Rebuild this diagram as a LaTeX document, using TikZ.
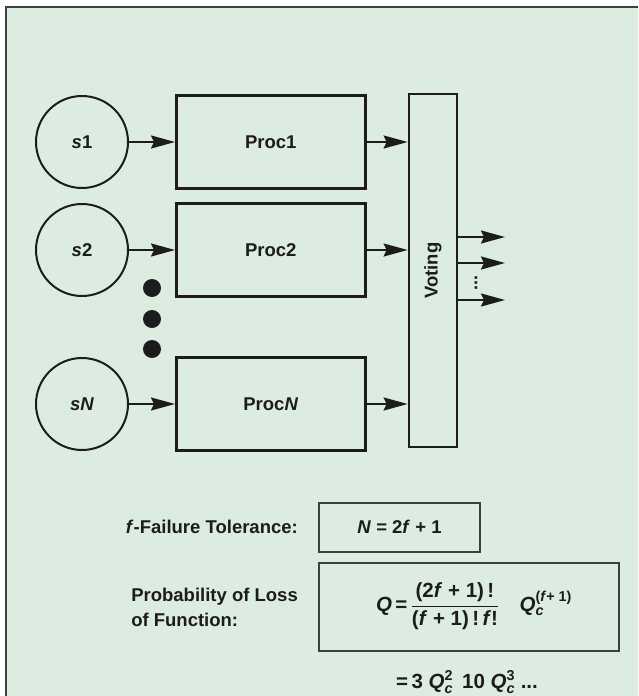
\documentclass[tikz,border=0pt]{standalone}
\usepackage{amsmath}
\usepackage{fontspec}
\setmainfont{Liberation Sans}
\usepackage{tikz}
\usetikzlibrary{
  arrows.meta,
  positioning
}
\definecolor{panelgreen}{RGB}{221,236,224}
\definecolor{ink}{RGB}{28,28,28}
\definecolor{framegray}{RGB}{60,64,62}
\newcommand{\vv}[1]{\textit{#1}}
\tikzset{
  txt/.style={font=\fontsize{18.5}{25}\selectfont\bfseries,text=ink},
  bigtxt/.style={font=\fontsize{20.5}{26}\selectfont\bfseries},
  sensor/.style={txt,circle,draw=ink,line width=2pt,
    minimum size=92pt,inner sep=0pt},
  procbox/.style={txt,draw=ink,line width=2.6pt,
    minimum width=189pt,minimum height=93pt,inner sep=0pt},
  votebox/.style={txt,draw=ink,line width=2.8pt,rotate=90,
    minimum width=353pt,minimum height=48pt,inner sep=0pt},
  eqbox/.style={txt,draw=ink!85,line width=2pt,inner sep=0pt},
  flow/.style={-{Stealth[length=24pt,width=13pt,inset=3pt]},
    line width=2pt,draw=ink},
  lab/.style={txt,inner sep=1pt},
  frame/.style={draw=framegray,line width=1.6pt}
}

\begin{document}
\begin{tikzpicture}[x=1pt,y=-1pt,node distance=14pt and 46pt]
  \useasboundingbox (0,0) rectangle (638,696);
  \fill[panelgreen] (6,7) rectangle (638,696);
  \draw[frame] (6,696) -- (6,7) -- (638,7);
  % sensors and processors
  \node[sensor] (s1) at (82,142) {\vv{s}1};
  \node[sensor,below=of s1] (s2) {\vv{s}2};
  \node[sensor,below=60pt of s2] (sN) {\vv{sN}};
  \node[procbox,right=of s1] (proc1) {Proc1};
  \node[procbox,right=of s2] (proc2) {Proc2};
  \node[procbox,right=of sN] (procN) {Proc\vv{N}};
  \foreach \y in {288,319,349}
    \fill[ink] (152,\y) circle (9);
  \draw[flow] (s1) -- (proc1);
  \draw[flow] (s2) -- (proc2);
  \draw[flow] (sN) -- (procN);
  % voter (rotated, so north is its left side)
  \node[votebox] (voting) at (433,270.5) {Voting};
  \draw[flow] (proc1.east) -- (proc1.east -| voting.north);
  \draw[flow] (proc2.east) -- (proc2.east -| voting.north);
  \draw[flow] (procN.east) -- (procN.east -| voting.north);
  \coordinate (out1) at (505,237);
  \coordinate (out2) at (505,263);
  \coordinate (out3) at (505,300);
  \draw[flow] (voting.south |- out1) -- (out1);
  \draw[flow] (voting.south |- out2) -- (out2);
  \draw[flow] (voting.south |- out3) -- (out3);
  \node[lab,rotate=90,font=\fontsize{18}{18}\selectfont\bfseries] (outdots) at (476,283) {...};
  % tolerance and loss
  \node[lab,anchor=east] (ftol) at (299,527) {\vv{f}-Failure Tolerance:};
  \node[eqbox,minimum width=161pt,minimum height=49pt,right=19pt of ftol] (nbox) {
    \vv{N} = 2\vv{f} + 1};
  \node[eqbox,bigtxt,minimum width=300pt,minimum height=88pt,
    below=9pt of nbox.south west,anchor=north west] (qbox) {
    \hspace*{10pt}$\text{\vv{Q}\,=\,}\dfrac{\text{(2\vv{f} + 1)\,!}}{\text{(\vv{f} + 1)\,!\,\vv{f}!}}\quad
    \text{\vv{Q}}^{\text{(\vv{f}+ 1)}}_{\text{\vv{c}}}$};
  \node[lab,align=left,anchor=east] (ploss) at (299,607) {Probability of Loss\\of Function:};
  \node[lab,bigtxt] (series) at (467,682) {
    $\text{=\,3 \vv{Q}}^{\text{2}}_{\text{\vv{c}}}\text{\ \,10 \vv{Q}}^{\text{3}}_{\text{\vv{c}}}\text{\ ...}$};
\end{tikzpicture}
\end{document}
